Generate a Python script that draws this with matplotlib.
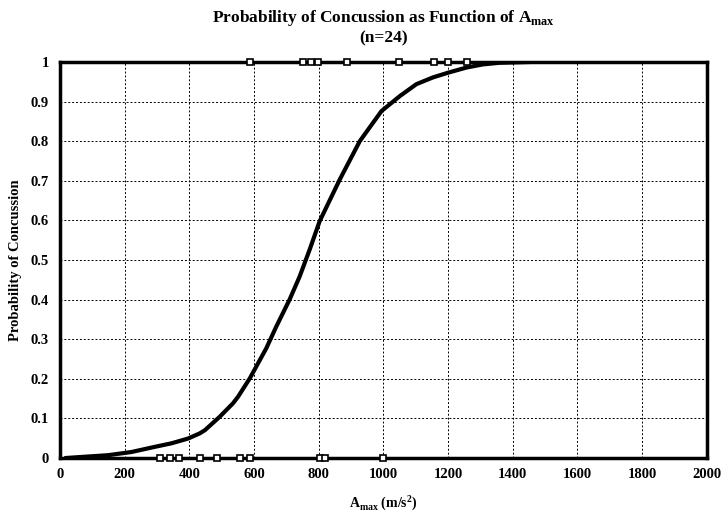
import matplotlib
matplotlib.use("Agg")
import matplotlib.pyplot as plt

# curve
curve_x = [20, 149, 221, 293, 345, 396, 432, 448, 494, 535, 551, 587, 638, 669, 710,
           741, 772, 803, 865, 927, 994, 1051, 1102, 1153, 1200, 1257, 1308, 1359, 1450]
curve_y = [0.0, 0.007, 0.015, 0.028, 0.037, 0.049, 0.062, 0.070, 0.104, 0.138, 0.155, 0.201, 0.277, 0.332, 0.40,
           0.458, 0.526, 0.598, 0.703, 0.800, 0.876, 0.914, 0.944, 0.961, 0.973, 0.986, 0.994, 0.998, 1.0]

# observed cases
no_conc = [310, 340, 368, 432, 485, 556, 587, 803, 818, 999]
conc = [589, 751, 777, 798, 886, 1048, 1156, 1200, 1257]

plt.rcParams['font.family'] = ['Liberation Serif', 'DejaVu Serif']
plt.rcParams['font.weight'] = 'bold'
plt.rcParams['mathtext.fontset'] = 'custom'
plt.rcParams['mathtext.rm'] = 'Liberation Serif:bold'
plt.rcParams['mathtext.bf'] = 'Liberation Serif:bold'

fig = plt.figure(figsize=(7.22, 5.21), dpi=100)
ax = fig.add_axes([0.083, 0.121, 0.896, 0.760])

ax.grid(True, color='black', linestyle=(0, (2, 2)), linewidth=0.7)
ax.set_axisbelow(True)

ax.plot(curve_x, curve_y, color='black', linewidth=3, zorder=3)
ax.plot(no_conc, [0] * len(no_conc), 's', ms=5, mfc='white', mec='black', mew=1.2,
        clip_on=False, zorder=5)
ax.plot(conc, [1] * len(conc), 's', ms=5, mfc='white', mec='black', mew=1.2,
        clip_on=False, zorder=5)

ax.set_xlim(0, 2000)
ax.set_ylim(0, 1)
ax.set_xticks(range(0, 2001, 200))
ax.set_yticks([i / 10 for i in range(11)])
ax.set_yticklabels(['0', '0.1', '0.2', '0.3', '0.4', '0.5', '0.6', '0.7', '0.8', '0.9', '1'])
ax.tick_params(length=0, labelsize=10.5)
ax.tick_params(axis='y', pad=8)
ax.tick_params(axis='x', pad=7)
for lab in ax.get_xticklabels() + ax.get_yticklabels():
    lab.set_fontweight('bold')

for s in ax.spines.values():
    s.set_linewidth(2.5)
    s.set_zorder(4)

ax.set_title('Probability of Concussion as Function of A$_{\\rm max}$\n(n=24)',
             fontsize=12.5, fontweight='bold', pad=14, linespacing=1.25)
ax.set_xlabel('A$_{\\rm max}$ (m/s$^{\\rm 2}$)', fontsize=10, fontweight='bold', labelpad=9)
ax.set_ylabel('Probability of Concussion', fontsize=10.5, fontweight='bold', labelpad=6)

fig.savefig('out.png', dpi=100)
